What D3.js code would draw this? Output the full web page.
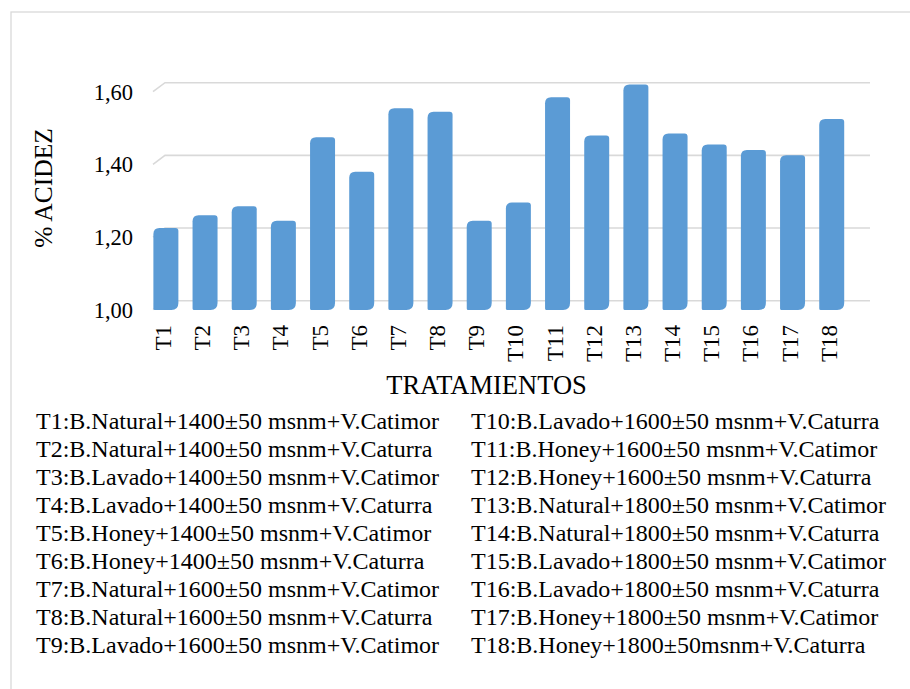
<!DOCTYPE html>
<html>
<head>
<meta charset="utf-8">
<script src="https://cdn.jsdelivr.net/npm/d3@7"></script>
<style>
html,body{margin:0;padding:0;background:#fff;}
svg{display:block;}
text{font-family:"Liberation Serif","Times New Roman",serif;fill:#000;}
</style>
</head>
<body>
<svg id="chart" width="910" height="689"></svg>
<script>
const categories = ["T1","T2","T3","T4","T5","T6","T7","T8","T9","T10","T11","T12","T13","T14","T15","T16","T17","T18"];
const acidez = [1.20,1.235,1.26,1.22,1.45,1.355,1.53,1.52,1.22,1.27,1.56,1.455,1.595,1.46,1.43,1.415,1.40,1.50];
const yTicks = [1.00,1.20,1.40,1.60];
const yTickLabels = ["1,00","1,20","1,40","1,60"];
const legendLeft = [
 "T1:B.Natural+1400\u00B150 msnm+V.Catimor",
 "T2:B.Natural+1400\u00B150 msnm+V.Caturra",
 "T3:B.Lavado+1400\u00B150 msnm+V.Catimor",
 "T4:B.Lavado+1400\u00B150 msnm+V.Caturra",
 "T5:B.Honey+1400\u00B150 msnm+V.Catimor",
 "T6:B.Honey+1400\u00B150 msnm+V.Caturra",
 "T7:B.Natural+1600\u00B150 msnm+V.Catimor",
 "T8:B.Natural+1600\u00B150 msnm+V.Caturra",
 "T9:B.Lavado+1600\u00B150 msnm+V.Catimor"
];
const legendRight = [
 "T10:B.Lavado+1600\u00B150 msnm+V.Caturra",
 "T11:B.Honey+1600\u00B150 msnm+V.Catimor",
 "T12:B.Honey+1600\u00B150 msnm+V.Caturra",
 "T13:B.Natural+1800\u00B150 msnm+V.Catimor",
 "T14:B.Natural+1800\u00B150 msnm+V.Caturra",
 "T15:B.Lavado+1800\u00B150 msnm+V.Catimor",
 "T16:B.Lavado+1800\u00B150 msnm+V.Caturra",
 "T17:B.Honey+1800\u00B150 msnm+V.Catimor",
 "T18:B.Honey+1800\u00B150msnm+V.Caturra"
];
const yTitle = "% ACIDEZ";
const xTitle = "TRATAMIENTOS";

const svg = d3.select("#chart");
// chart border (left and top visible)
svg.append("rect").attr("x",11).attr("y",12).attr("width",905).attr("height",690)
  .attr("fill","none").attr("stroke","#D9D9D9").attr("stroke-width",1.3);

const dx = -12, dy = 9; // 3D depth offset (front plane relative to back)
const y = d3.scaleLinear().domain([1.0,1.6]).range([300.7,82.7]);
const x = d3.scaleBand().domain(categories).range([146.3,851.3]).paddingInner(0.362).paddingOuter(0.181);
const backLeft = 165, backRight = 870;

// gridlines
const grid = svg.append("g");
yTicks.forEach(t=>{
  grid.append("path")
    .attr("d",`M${backLeft+dx},${y(t)+dy}L${backLeft},${y(t)}L${backRight},${y(t)}`)
    .attr("fill","none").attr("stroke","#D9D9D9").attr("stroke-width",1.6);
});

// y tick labels (aligned to front plane)
svg.append("g").selectAll("text").data(yTicks).join("text")
  .attr("x",133).attr("y",d=>y(d)+dy).attr("dy","0.35em")
  .attr("text-anchor","end").style("font-size","22.5px")
  .text((d,i)=>yTickLabels[i]);

// bars
function barPath(x0,x1,y0,y1){
  const tl=6,tr=3,br=7,bl=1.5;
  return `M${x0},${y0+tl}Q${x0},${y0} ${x0+tl},${y0}L${x1-tr},${y0}Q${x1},${y0} ${x1},${y0+tr}`+
         `L${x1},${y1-br}Q${x1},${y1} ${x1-br},${y1}L${x0+bl},${y1}Q${x0},${y1} ${x0},${y1-bl}Z`;
}
const baseY = y(1.0)+dy;
svg.append("g").selectAll("path").data(categories).join("path")
  .attr("d",(c,i)=>barPath(x(c), x(c)+x.bandwidth(), y(acidez[i]), baseY+0.3))
  .attr("fill","#5B9BD5");

// x tick labels
svg.append("g").selectAll("text").data(categories).join("text")
  .attr("transform",c=>`translate(${x(c)+x.bandwidth()/2-3},325) rotate(-90)`)
  .attr("dy","0.35em").attr("text-anchor","end").style("font-size","23px")
  .text(c=>c);

// axis titles
svg.append("text").attr("transform","translate(43,188) rotate(-90)")
  .attr("dy","0.35em").attr("text-anchor","middle").style("font-size","25.5px").text(yTitle);
svg.append("text").attr("x",486.5).attr("y",394).attr("text-anchor","middle")
  .style("font-size","26.5px").text(xTitle);

// legend
const lg = svg.append("g").style("font-size","24px");
lg.selectAll("text.l").data(legendLeft).join("text").attr("class","l")
  .attr("x",36).attr("y",(d,i)=>429+i*28).text(d=>d);
lg.selectAll("text.r").data(legendRight).join("text").attr("class","r")
  .attr("x",471).attr("y",(d,i)=>429+i*28).text(d=>d);
</script>
</body>
</html>
